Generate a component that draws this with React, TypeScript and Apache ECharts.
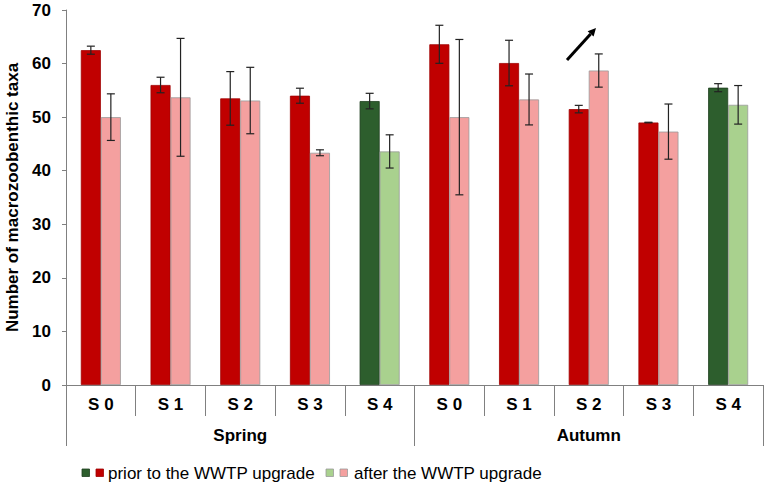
import React, { useEffect, useRef } from "react";
import * as echarts from "echarts";

const stations = ["S 0", "S 1", "S 2", "S 3", "S 4", "S 0", "S 1", "S 2", "S 3", "S 4"];
const seasons = ["Spring", "Autumn"];
const priorValues = [62.5, 56.0, 53.5, 54.0, 53.0, 63.6, 60.1, 51.5, 49.0, 55.5];
const priorErrors = [0.75, 1.45, 5.0, 1.4, 1.45, 3.55, 4.25, 0.7, 0.05, 0.75];
const afterValues = [50.0, 53.7, 53.1, 43.35, 43.6, 50.0, 53.3, 58.7, 47.3, 52.3];
const afterErrors = [4.35, 11.0, 6.2, 0.55, 3.1, 14.5, 4.75, 3.1, 5.15, 3.6];
const yTicks = { min: 0, max: 70, interval: 10 };

const RED = "#C00000";
const PINK = "#F4A09F";
const DGREEN = "#2D5E2D";
const LGREEN = "#A9D18E";
const FONT = "'Liberation Sans', Arial, sans-serif";
const BAR_FRAC = 0.287;

function isGreen(i: number) {
  return stations[i] === "S 4";
}

export default function App() {
  const ref = useRef<HTMLDivElement>(null);
  useEffect(() => {
    if (!ref.current) return;
    const chart = echarts.init(ref.current, null, { renderer: "svg" });

    const errSeries = (vals: number[], errs: number[], sign: number) => ({
      type: "custom",
      xAxisIndex: 0,
      yAxisIndex: 0,
      z: 10,
      silent: true,
      encode: { x: 0, y: [1, 2] },
      data: vals.map((v, i) => [i, v - errs[i], v + errs[i]]),
      renderItem: (params: any, api: any) => {
        const idx = api.value(0);
        const lo = api.coord([idx, api.value(1)]);
        const hi = api.coord([idx, api.value(2)]);
        const bw = api.size([1, 0])[0] * BAR_FRAC;
        const x = lo[0] + (sign * bw) / 2;
        const cap = 4;
        const style = { stroke: "#222", lineWidth: 1.2 };
        return {
          type: "group",
          children: [
            { type: "line", shape: { x1: x, y1: hi[1], x2: x, y2: lo[1] }, style },
            { type: "line", shape: { x1: x - cap, y1: hi[1], x2: x + cap, y2: hi[1] }, style },
            { type: "line", shape: { x1: x - cap, y1: lo[1], x2: x + cap, y2: lo[1] }, style },
          ],
        };
      },
    });

    const boldLabel = { color: "#000", fontFamily: FONT, fontWeight: "bold", fontSize: 17 };

    const option: any = {
      animation: false,
      grid: { left: 66, right: 3, top: 10, bottom: 100, containLabel: false, outerBoundsMode: "none" },
      xAxis: [
        {
          type: "category",
          data: stations,
          position: "bottom",
          axisLine: { show: true, lineStyle: { color: "#808080", width: 1 } },
          axisTick: { show: true, interval: 0, length: 31, lineStyle: { color: "#808080" } },
          axisLabel: { interval: 0, margin: 11, ...boldLabel },
        },
        {
          type: "category",
          data: seasons,
          position: "bottom",
          axisLine: { show: false },
          axisTick: { show: true, interval: 0, length: 61, lineStyle: { color: "#808080" } },
          axisLabel: { interval: 0, margin: 42, ...boldLabel },
        },
      ],
      yAxis: {
        type: "value",
        min: yTicks.min,
        max: yTicks.max,
        interval: yTicks.interval,
        name: "Number of macrozoobenthic taxa",
        nameLocation: "middle",
        nameGap: 45,
        nameTextStyle: boldLabel,
        axisLine: { show: true, lineStyle: { color: "#808080" } },
        axisTick: { show: true, length: 4, lineStyle: { color: "#808080" } },
        splitLine: { show: false },
        axisLabel: { margin: 15, ...boldLabel },
      },
      series: [
        {
          type: "bar",
          name: "prior to the WWTP upgrade",
          barWidth: BAR_FRAC * 100 + "%",
          barGap: "0%",
          data: priorValues.map((v, i) => ({
            value: v,
            itemStyle: {
              color: isGreen(i) ? DGREEN : RED,
              borderColor: isGreen(i) ? "#1E3F1E" : "#A00000",
              borderWidth: 0.8,
            },
          })),
        },
        {
          type: "bar",
          name: "after the WWTP upgrade",
          barWidth: BAR_FRAC * 100 + "%",
          barGap: "0%",
          data: afterValues.map((v, i) => ({
            value: v,
            itemStyle: {
              color: isGreen(i) ? LGREEN : PINK,
              borderColor: "#9A9A9A",
              borderWidth: 0.8,
            },
          })),
        },
        errSeries(priorValues, priorErrors, -1),
        errSeries(afterValues, afterErrors, 1),
      ],
      graphic: [
        { type: "line", shape: { x1: 567, y1: 60, x2: 590.6, y2: 33.9 }, style: { stroke: "#000", lineWidth: 3 } },
        { type: "polygon", shape: { points: [[596, 28], [593.6, 36.6], [587.6, 31.2]] }, style: { fill: "#000" } },
        { type: "rect", shape: { x: 82, y: 469, width: 7.5, height: 7.5 }, style: { fill: DGREEN, stroke: "#1E3F1E", lineWidth: 0.8 } },
        { type: "rect", shape: { x: 96, y: 469, width: 7.5, height: 7.5 }, style: { fill: RED, stroke: "#A00000", lineWidth: 0.8 } },
        {
          type: "text",
          x: 108,
          y: 473,
          style: { text: "prior to the WWTP upgrade", fill: "#000", font: "17px " + FONT, verticalAlign: "middle", align: "left" },
        },
        { type: "rect", shape: { x: 326, y: 469, width: 7.5, height: 7.5 }, style: { fill: LGREEN, stroke: "#9A9A9A", lineWidth: 0.8 } },
        { type: "rect", shape: { x: 340, y: 469, width: 7.5, height: 7.5 }, style: { fill: PINK, stroke: "#9A9A9A", lineWidth: 0.8 } },
        {
          type: "text",
          x: 354,
          y: 473,
          style: { text: "after the WWTP upgrade", fill: "#000", font: "17px " + FONT, verticalAlign: "middle", align: "left" },
        },
      ],
    };
    chart.setOption(option);
    return () => chart.dispose();
  }, []);
  return <div ref={ref} style={{ width: 766, height: 485, position: "absolute", left: 0, top: 0 }} />;
}
